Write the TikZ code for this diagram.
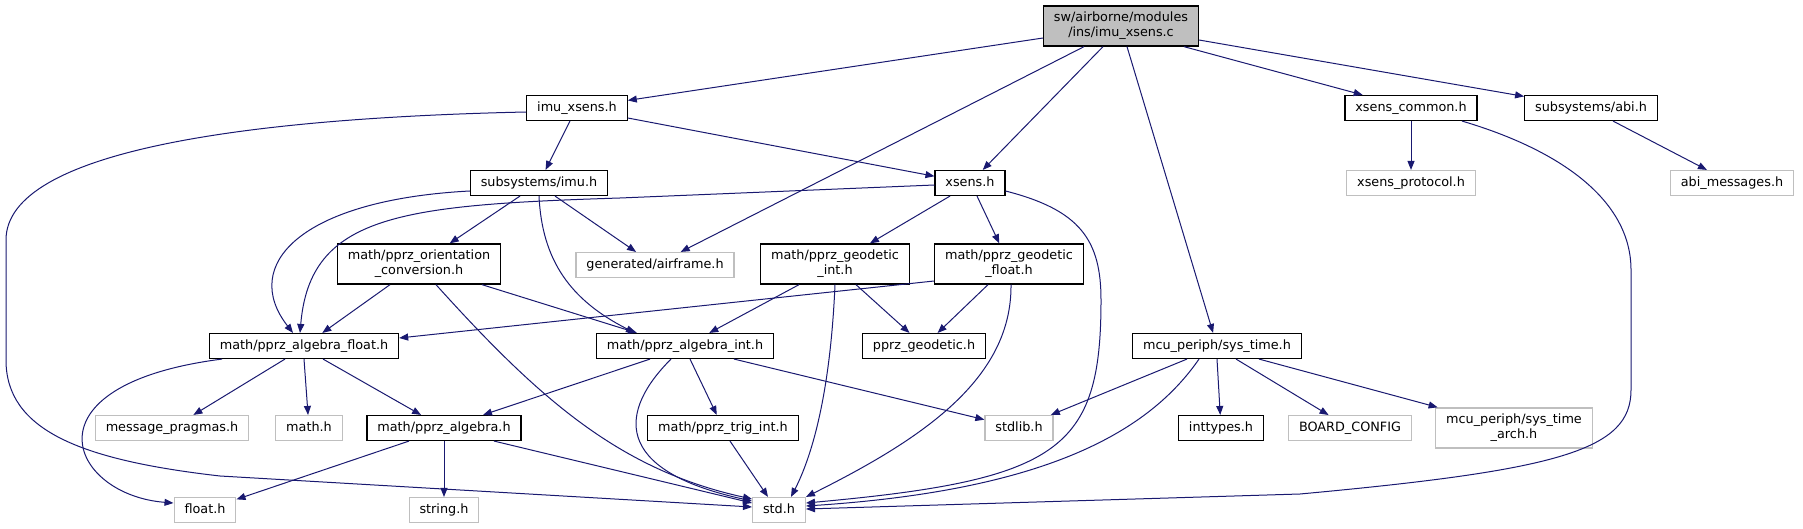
\documentclass[tikz,border=0pt]{standalone}
\usepackage{fontspec}
\setmainfont{DejaVu Sans}
\usetikzlibrary{arrows.meta}
\definecolor{edgeblue}{RGB}{25,25,112}
\definecolor{boxgrey}{RGB}{191,191,191}

\begin{document}
\begin{tikzpicture}[x=1pt,y=-1pt,
  every node/.style={font=\fontsize{12.8}{15.2}\selectfont,align=center},
  filebox/.style={draw=black,fill=white,line width=1.2pt,inner xsep=10.4pt,inner ysep=6pt,minimum height=24pt,text depth=3.2pt},
  extbox/.style={filebox,draw=boxgrey},
  mainbox/.style={filebox,fill=boxgrey},
  inc/.style={draw=edgeblue,line width=1pt,-{Triangle[length=9pt,width=7pt]}}]
\useasboundingbox (0,0) rectangle (1803,529);

% files, row by row
\node[mainbox] (imuXsensC) at (1121,26) {sw/airborne/modules\\/ins/imu\_xsens.c};
\node[filebox] (imuXsensH) at (577,108) {imu\_xsens.h};
\node[filebox] (xsensCommon) at (1411,108) {xsens\_common.h};
\node[filebox] (abiH) at (1591,108) {subsystems/abi.h};
\node[filebox] (imuH) at (539,183) {subsystems/imu.h};
\node[filebox] (xsensH) at (970,183) {xsens.h};
\node[extbox] (xsensProto) at (1411,183) {xsens\_protocol.h};
\node[extbox] (abiMsg) at (1732,183) {abi\_messages.h};
\node[filebox] (orientConv) at (419,264) {math/pprz\_orientation\\\_conversion.h};
\node[extbox] (airframe) at (655,265) {generated/airframe.h};
\node[filebox] (geoInt) at (835,264) {math/pprz\_geodetic\\\_int.h};
\node[filebox] (geoFloat) at (1009,264) {math/pprz\_geodetic\\\_float.h};
\node[filebox] (algFloat) at (304,346) {math/pprz\_algebra\_float.h};
\node[filebox] (algInt) at (685,346) {math/pprz\_algebra\_int.h};
\node[filebox] (geodetic) at (924,346) {pprz\_geodetic.h};
\node[filebox] (sysTime) at (1217,346) {mcu\_periph/sys\_time.h};
\node[extbox] (msgPragmas) at (172,428) {message\_pragmas.h};
\node[extbox] (mathH) at (309,428) {math.h};
\node[filebox] (algebra) at (444,428) {math/pprz\_algebra.h};
\node[filebox] (trigInt) at (723,428) {math/pprz\_trig\_int.h};
\node[extbox] (stdlibH) at (1019,428) {stdlib.h};
\node[filebox] (inttypesH) at (1221,428) {inttypes.h};
\node[extbox] (boardConfig) at (1350,428) {BOARD\_CONFIG};
\node[extbox] (sysTimeArch) at (1514,428) {mcu\_periph/sys\_time\\\_arch.h};
\node[extbox] (floatH) at (205,510) {float.h};
\node[extbox] (stringH) at (444,510) {string.h};
\node[extbox] (stdH) at (779,510) {std.h};

% includes of imu_xsens.c
\draw[inc] ([yshift=-12pt]imuXsensC.west) -- (imuXsensH);
\draw[inc] ([xshift=-37pt]imuXsensC.south) -- (airframe);
\draw[inc] ([xshift=-18pt]imuXsensC.south) -- (xsensH);
\draw[inc] ([xshift=6pt]imuXsensC.south) -- (sysTime);
\draw[inc] ([xshift=63pt]imuXsensC.south) -- (xsensCommon);
\draw[inc] ([yshift=-14pt]imuXsensC.east) -- (abiH);

% second row
\draw[inc] ([xshift=-7pt]imuXsensH.south) -- (imuH);
\draw[inc] ([yshift=-10pt]imuXsensH.east) -- (xsensH);
\draw[inc] ([yshift=-4pt]imuXsensH.west) .. controls (250,118) and (6,150) .. (6,240)
    -- (6,360) .. controls (6,430) and (80,460) .. (220,476) -- ([yshift=3pt]stdH.west);
\draw[inc] (xsensCommon) -- (xsensProto);
\draw[inc] ([xshift=51pt]xsensCommon.south) .. controls (1560,150) and (1631,200) .. (1631,270)
    -- (1631,390) .. controls (1631,450) and (1560,470) .. (1300,494) -- ([yshift=1pt]stdH.east);
\draw[inc] ([xshift=22pt]abiH.south) -- (abiMsg);

% imu.h and xsens.h
\draw[inc] ([yshift=-8pt]imuH.west) .. controls (300,200) and (240,265) .. ([xshift=-11pt]algFloat.north);
\draw[inc] ([xshift=-19pt]imuH.south) -- (orientConv);
\draw[inc] ([xshift=16pt]imuH.south) -- (airframe);
\draw[inc] (imuH.south) .. controls (542,260) and (570,300) .. ([xshift=-50pt]algInt.north);
\draw[inc] ([yshift=-2pt]xsensH.west) -- (620,198) .. controls (400,205) and (310,215) .. ([xshift=-4pt]algFloat.north);
\draw[inc] ([xshift=-20pt]xsensH.south) -- (geoInt);
\draw[inc] ([xshift=7pt]xsensH.south) -- (geoFloat);
\draw[inc] ([yshift=-8pt]xsensH.east) .. controls (1080,210) and (1101,240) .. (1101,300)
    .. controls (1101,450) and (1060,480) .. ([yshift=7pt]stdH.east);

% conversion and geodetic headers
\draw[inc] ([xshift=-29pt]orientConv.south) -- (algFloat);
\draw[inc] ([xshift=63pt]orientConv.south) -- ([xshift=-48pt]algInt.north);
\draw[inc] ([xshift=17pt]orientConv.south) .. controls (540,400) and (620,470) .. ([yshift=11pt]stdH.west);
\draw[inc] ([xshift=-36pt]geoInt.south) -- (algInt);
\draw[inc] ([xshift=21pt]geoInt.south) -- (geodetic);
\draw[inc] (geoInt.south) .. controls (830,400) and (810,460) .. ([xshift=12pt]stdH.north);
\draw[inc] ([xshift=-21pt]geoFloat.south) -- (geodetic);
\draw[inc] ([yshift=-17pt]geoFloat.west) -- ([yshift=8pt]algFloat.east);
\draw[inc] ([xshift=2pt]geoFloat.south) .. controls (1012,380) and (920,440) .. (stdH.north east);

% algebra headers
\draw[inc] ([xshift=-82pt]algFloat.south) .. controls (20,385) and (70,495) .. ([yshift=7pt]floatH.west);
\draw[inc] ([xshift=-19pt]algFloat.south) -- (msgPragmas);
\draw[inc] (algFloat.south) -- (mathH);
\draw[inc] ([xshift=19pt]algFloat.south) -- (algebra);
\draw[inc] ([xshift=-35pt]algInt.south) -- (algebra);
\draw[inc] ([xshift=5pt]algInt.south) -- (trigInt);
\draw[inc] ([xshift=49pt]algInt.south) -- (stdlibH);
\draw[inc] ([xshift=-14pt]algInt.south) .. controls (620,410) and (610,470) .. ([yshift=9pt]stdH.west);
\draw[inc] ([xshift=-35pt]algebra.south) -- (floatH);
\draw[inc] (algebra) -- (stringH);
\draw[inc] ([xshift=50pt]algebra.south) -- ([yshift=7pt]stdH.west);
\draw[inc] ([xshift=7pt]trigInt.south) -- ([xshift=-11pt]stdH.north);

% sys_time.h
\draw[inc] ([xshift=-30pt]sysTime.south) -- (stdlibH);
\draw[inc] (sysTime.south) -- (inttypesH);
\draw[inc] ([xshift=19pt]sysTime.south) -- (boardConfig);
\draw[inc] ([xshift=42pt]sysTime.south) -- (sysTimeArch);
\draw[inc] ([xshift=-18pt]sysTime.south) .. controls (1150,430) and (1050,490) .. ([yshift=4pt]stdH.east);
\end{tikzpicture}
\end{document}
